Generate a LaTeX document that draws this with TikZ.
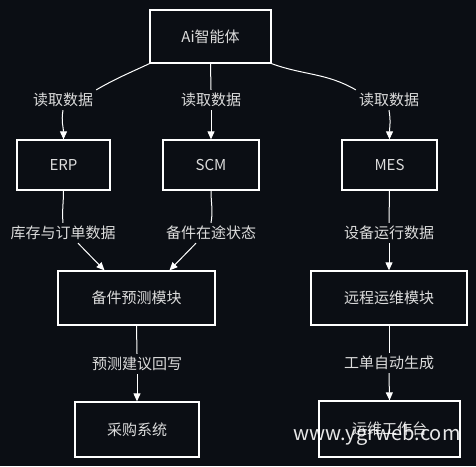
\documentclass[tikz,border=0pt]{standalone}
\usepackage{fontspec}
\setmainfont{Noto Sans CJK SC}
\usetikzlibrary{arrows.meta,calc}
\definecolor{bgdark}{HTML}{0B0E14}
\definecolor{inkgray}{HTML}{DCDCDC}
\tikzstyle{block} = [draw=white, line width=1.3pt, text=inkgray, font=\fontsize{15}{18}\selectfont, inner sep=0pt]
\tikzstyle{flowlabel} = [text=inkgray, font=\fontsize{15}{18}\selectfont, inner sep=3pt]
\tikzstyle{wire} = [white, line width=1pt]
\tikzstyle{flow} = [wire, -{Triangle[length=8pt,width=7pt]}]
\tikzset{blocksize/.style 2 args={minimum width=#1pt, minimum height=#2pt}}

\begin{document}
\begin{tikzpicture}[x=1pt,y=-1pt]
    \fill[bgdark] (0,0) rectangle (476,466);
    \useasboundingbox (0,0) rectangle (476,466);

    % boxes
    \node[block, blocksize={121}{53}] (ai)   at (210.5,36.5) {Ai智能体};
    \node[block, blocksize={93}{50}]  (erp)  at (63.5,165)   {ERP};
    \node[block, blocksize={96}{50}]  (scm)  at (211,165)    {SCM};
    \node[block, blocksize={95}{50}]  (mes)  at (389.5,165)  {MES};
    \node[block, blocksize={157}{54}] (pred) at (136.5,298)  {备件预测模块};
    \node[block, blocksize={156}{54}] (rmt)  at (389,298)    {远程运维模块};
    \node[block, blocksize={124}{55}] (buy)  at (137,429.5)  {采购系统};
    \node[block, blocksize={141}{56}] (desk) at (389.5,429)  {运维工作台};

    % labels on the wires
    \node[flowlabel] (rdl) at (63,100)  {读取数据};
    \node[flowlabel] (rdm) at (211,100) {读取数据};
    \node[flowlabel] (rdr) at (389,100) {读取数据};
    \node[flowlabel] (stk) at (63,233)  {库存与订单数据};
    \node[flowlabel] (trn) at (211,233) {备件在途状态};
    \node[flowlabel] (run) at (389,233) {设备运行数据};
    \node[flowlabel] (wbk) at (137,364) {预测建议回写};
    \node[flowlabel] (ord) at (389,363) {工单自动生成};

    % agent to sources
    \draw[wire] (ai.south west) to[out=205, in=30] (rdl.north east);
    \draw[flow] (rdl.south) to[out=-100, in=90] (erp.north);
    \draw[wire] (ai.south) -- (rdm.north);
    \draw[flow] (rdm.south) -- (scm.north);
    \draw[wire] (ai.south east) to[out=-20, in=150] (rdr.north west);
    \draw[flow] (rdr.south) to[out=-80, in=90] (mes.north);

    % sources to modules
    \draw[wire] (erp.south) to[out=-90, in=95] (stk.north);
    \draw[flow] ($(stk.south)+(15,0)$) -- ($(pred.north)+(-32,0)$);
    \draw[wire] (scm.south) to[out=-90, in=80] (trn.north);
    \draw[flow] ($(trn.south)+(-15,0)$) -- ($(pred.north)+(33,0)$);
    \draw[wire] (mes.south) -- (run.north);
    \draw[flow] (run.south) -- (rmt.north);

    % modules to targets
    \draw[wire] (pred.south) -- (wbk.north);
    \draw[flow] (wbk.south) -- (buy.north);
    \draw[wire] (rmt.south) -- (ord.north);
    \draw[flow] (ord.south) -- (desk.north);

    \node[text=white, opacity=0.9, font=\fontsize{20}{24}\selectfont] (mark) at (377,435) {www.ygrweb.com};
\end{tikzpicture}
\end{document}
